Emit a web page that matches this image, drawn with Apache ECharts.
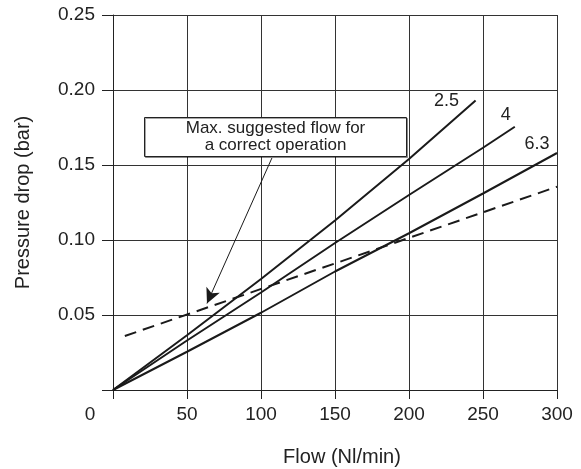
<!DOCTYPE html>
<html><head><meta charset="utf-8">
<script src="https://cdn.jsdelivr.net/npm/echarts@6/dist/echarts.min.js"></script>
<style>html,body{margin:0;padding:0;background:#fff}#c{width:581px;height:469px}</style>
</head><body><div id="c"></div>
<script>
// Data (Flow Nl/min, Pressure drop bar)
const lineNames = ['2.5', '4', '6.3'];
const flow25 = [0, 50, 100, 150, 200, 245];
const drop25 = [0, 0.0365, 0.074, 0.113, 0.154, 0.193];
const flow4 = [0, 50, 100, 150, 200, 250, 271.5];
const drop4 = [0, 0.033, 0.065, 0.098, 0.13, 0.1615, 0.1755];
const flow63 = [0, 50, 100, 150, 200, 250, 300];
const drop63 = [0, 0.0255, 0.0515, 0.079, 0.1045, 0.131, 0.158];
const flowMax = [8, 300];
const dropMax = [0.036, 0.1355];
const arrowFrom = [107.4, 0.1547];
const arrowTo = [63.5, 0.0577];
const xTicks = [0, 50, 100, 150, 200, 250, 300];
const yTicks = [0, 0.05, 0.10, 0.15, 0.20, 0.25];
const noteText = 'Max. suggested flow for\na correct operation';
const xTitle = 'Flow (Nl/min)';
const yTitle = 'Pressure drop (bar)';

const zip = (a, b) => a.map((v, i) => [v, b[i]]);
const ink = '#1a1a1a';
const font = 'Liberation Sans, Arial, sans-serif';
const labelOffsets = [[-29, 1], [-9, -12], [-20, -9]];

function solid(name, xs, ys, k) {
  return {
    type: 'line', name: name, data: zip(xs, ys), showSymbol: false, symbol: 'none',
    lineStyle: { color: ink, width: 2 }, silent: true, animation: false,
    endLabel: { show: true, formatter: name, color: '#222', fontSize: 18, fontFamily: font,
      offset: labelOffsets[k], align: 'center', verticalAlign: 'middle', distance: 0 }
  };
}

const chart = echarts.init(document.getElementById('c'), null, { renderer: 'canvas' });
chart.setOption({
  animation: false,
  backgroundColor: '#fff',
  grid: { left: 113, right: 24, top: 15, bottom: 79, containLabel: false, outerBoundsMode: 'none' },
  xAxis: {
    type: 'value', min: xTicks[0], max: xTicks[xTicks.length - 1], interval: 50,
    name: xTitle, nameLocation: 'middle', nameGap: 57,
    nameTextStyle: { fontSize: 20, color: '#222', fontFamily: font, padding: [0, 0, 0, 14] },
    axisLine: { lineStyle: { color: '#222', width: 1 } },
    axisTick: { show: true, length: 9, inside: false, interval: (i, v) => v === 0 || v === 300, lineStyle: { color: '#222' } },
    axisLabel: { fontSize: 19, color: '#222', fontFamily: font, margin: 15,
      formatter: v => v === 0 ? '{z|0}' : String(v),
      rich: { z: { fontSize: 19, color: '#222', fontFamily: font, padding: [0, 46, 0, 0] } } },
    splitLine: { show: true, lineStyle: { color: '#333', width: 1 } }
  },
  yAxis: {
    type: 'value', min: yTicks[0], max: yTicks[yTicks.length - 1], interval: 0.05,
    name: yTitle, nameLocation: 'middle', nameGap: 80,
    nameTextStyle: { fontSize: 20, color: '#222', fontFamily: font },
    axisLine: { show: true, lineStyle: { color: '#222', width: 1 } },
    axisTick: { show: true, length: 11, lineStyle: { color: '#222' } },
    axisLabel: { fontSize: 19, color: '#222', fontFamily: font, margin: 18,
      formatter: v => v === 0 ? '' : v.toFixed(2) },
    splitLine: { show: true, lineStyle: { color: '#333', width: 1 } }
  },
  series: [
    solid(lineNames[0], flow25, drop25, 0),
    solid(lineNames[1], flow4, drop4, 1),
    solid(lineNames[2], flow63, drop63, 2),
    {
      type: 'line', name: 'max', data: zip(flowMax, dropMax), showSymbol: false, symbol: 'none',
      lineStyle: { color: ink, width: 2, type: [12, 7] }, silent: true,
      markLine: {
        silent: true, symbol: ['none', 'arrow'], symbolSize: [11, 15],
        lineStyle: { color: ink, width: 1, type: 'solid' }, label: { show: false },
        data: [[{ coord: arrowFrom }, { coord: arrowTo }]]
      }
    }
  ],
  graphic: [
    { type: 'rect', z: 100, shape: { x: 144.5, y: 117.5, width: 262, height: 39 },
      style: { fill: '#fff', stroke: '#222', lineWidth: 1, shadowColor: 'rgba(0,0,0,0.35)', shadowOffsetX: 1, shadowOffsetY: 1 } },
    { type: 'text', z: 101, x: 275.5, y: 137, style: { text: noteText, fontSize: 17, fontFamily: font,
      fill: '#222', align: 'center', verticalAlign: 'middle', lineHeight: 17 } }
  ]
});
</script></body></html>
